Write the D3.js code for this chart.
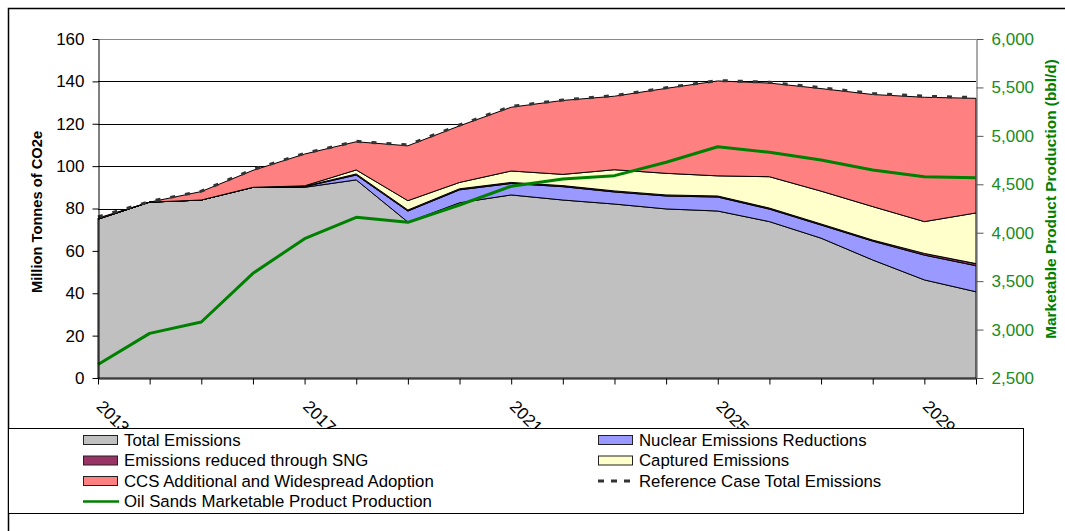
<!DOCTYPE html>
<html>
<head>
<meta charset="utf-8">
<style>
    body { margin: 0; background: #fff; }
    text { font-family: "Liberation Sans", Arial, sans-serif; }
</style>
</head>
<body>
<svg width="1065" height="531"></svg>

<script src="https://d3js.org/d3.v7.min.js"></script>

<script>
    // years on the category axis
    var years = [2013, 2014, 2015, 2016, 2017, 2018, 2019, 2020, 2021, 2022,
                 2023, 2024, 2025, 2026, 2027, 2028, 2029, 2030];
    var yearLabels = [2013, 2017, 2021, 2025, 2029];

    // stacked series, Mt CO2e
    var totalEmissions = [75, 83, 84, 90, 90, 93.5, 73.6, 82.7, 86.4, 84,
                          82.1, 79.8, 78.8, 73.8, 66, 55.7, 46.3, 40.7];
    var nuclear = [0, 0, 0, 0, 0.3, 2.3, 5.2, 6.1, 5.4, 6.3,
                   5.7, 6.1, 6.6, 5.9, 6.2, 8.9, 11.7, 12.3];
    var sng = [0, 0, 0, 0, 0.2, 0.5, 0.5, 0.5, 0.5, 0.5,
               0.5, 0.5, 0.5, 0.5, 0.5, 0.5, 0.8, 1];
    var captured = [0, 0, 0, 0, 0.2, 1.9, 4.4, 3, 5.4, 5.3,
                    10, 10.2, 9.5, 14.8, 15.5, 15.8, 15, 23.9];
    var ccs = [0.5, 0, 4, 8, 15, 13.3, 25.9, 26.7, 30.1, 34.9,
               34.7, 40.1, 44.8, 44.2, 48.4, 52.9, 58.7, 54.1];

    var referenceCase = [76, 83.3, 88.2, 98.4, 106, 111.7, 110, 119.4, 128.2, 131.2,
                         133.3, 137, 140.4, 139.6, 137, 134.3, 133, 132.4];

    // oil sands production, bbl/d (right axis)
    var oilSands = [2640, 2961, 3078, 3581, 3938, 4159, 4107, 4286, 4480, 4555,
                    4589, 4727, 4888, 4830, 4751, 4647, 4578, 4568];

    var leftTicks = [0, 20, 40, 60, 80, 100, 120, 140, 160];
    var rightTicks = [2500, 3000, 3500, 4000, 4500, 5000, 5500, 6000];
</script>

<script>
    function makeChart() {

        var svg = d3.select("svg");

        var keys = ["total", "nuclear", "sng", "captured", "ccs"];
        var colors = {
            total: "#C0C0C0",
            nuclear: "#9999FF",
            sng: "#993366",
            captured: "#FFFFCC",
            ccs: "#FF8080"
        };

        var rows = years.map(function(yr, i) {
            return {
                year: yr,
                total: totalEmissions[i],
                nuclear: nuclear[i],
                sng: sng[i],
                captured: captured[i],
                ccs: ccs[i],
                ref: referenceCase[i],
                oil: oilSands[i]
            };
        });

        var x = d3.scalePoint().domain(years).range([98, 976]);
        var y = d3.scaleLinear().domain([0, 160]).range([378, 39]);
        var y2 = d3.scaleLinear().domain([2500, 6000]).range([378, 39]);

        // outer frame
        svg.append("rect")
            .attr("x", 8.5).attr("y", 8.5)
            .attr("width", 1080).attr("height", 560)
            .attr("fill", "#fff")
            .attr("stroke", "#000")
            .attr("stroke-width", 1.5);

        // gridlines
        svg.append("g")
            .selectAll("line")
            .data(leftTicks.slice(1))
            .enter().append("line")
            .attr("x1", 98).attr("x2", 976)
            .attr("y1", function(d) { return Math.round(y(d)) + 0.5; })
            .attr("y2", function(d) { return Math.round(y(d)) + 0.5; })
            .attr("stroke", function(d) { return d == 160 ? "#888" : "#000"; })
            .attr("stroke-width", 1);

        var stack = d3.stack().keys(keys);
        var layers = stack(rows);

        var area = d3.area()
            .x(function(d) { return x(d.data.year); })
            .y0(function(d) { return y(d[0]); })
            .y1(function(d) { return y(d[1]); });

        svg.append("g")
            .selectAll("path")
            .data(layers)
            .enter().append("path")
            .attr("d", area)
            .attr("fill", function(d) { return colors[d.key]; })
            .attr("stroke", "#000")
            .attr("stroke-width", 1)
            .attr("stroke-linejoin", "round");

        // reference case dashed line
        var refLine = d3.line()
            .x(function(d) { return x(d.year); })
            .y(function(d) { return y(d.ref); });

        svg.append("path")
            .datum(rows)
            .attr("d", refLine)
            .attr("fill", "none")
            .attr("stroke", "#333")
            .attr("stroke-width", 3)
            .attr("stroke-dasharray", "5,10");

        // oil sands line
        var oilLine = d3.line()
            .x(function(d) { return x(d.year); })
            .y(function(d) { return y2(d.oil); });

        svg.append("path")
            .datum(rows)
            .attr("d", oilLine)
            .attr("fill", "none")
            .attr("stroke", "#008000")
            .attr("stroke-width", 3)
            .attr("stroke-linejoin", "round");

        // left axis
        var leftAxis = svg.append("g")
            .attr("transform", "translate(98.5,0)")
            .call(d3.axisLeft(y).tickValues(leftTicks).tickSize(6).tickPadding(8).tickSizeOuter(0));
        leftAxis.select(".domain").attr("stroke", "#000");
        leftAxis.selectAll("text")
            .attr("font-size", 17)
            .attr("font-family", "Liberation Sans, Arial, sans-serif")
            .attr("fill", "#000");

        // right axis
        var rightAxis = svg.append("g")
            .attr("transform", "translate(976.5,0)")
            .call(d3.axisRight(y2).tickValues(rightTicks).tickSize(7).tickPadding(8).tickSizeOuter(0)
                .tickFormat(d3.format(",")));
        rightAxis.select(".domain").attr("stroke", "#555");
        rightAxis.selectAll("line").attr("stroke", "#555");
        rightAxis.selectAll("text")
            .attr("font-size", 17)
            .attr("font-family", "Liberation Sans, Arial, sans-serif")
            .attr("fill", "#1a8c1a");

        // bottom axis
        var bottomAxis = svg.append("g")
            .attr("transform", "translate(0,378.5)")
            .call(d3.axisBottom(x).tickSize(6).tickSizeOuter(0).tickFormat(""));
        bottomAxis.select(".domain").attr("stroke", "#000");

        svg.append("g")
            .selectAll("text")
            .data(yearLabels)
            .enter().append("text")
            .attr("transform", function(d) {
                return "translate(" + (x(d) + 6) + ",399) rotate(45)";
            })
            .attr("dy", "0.71em")
            .attr("font-size", 17)
            .attr("fill", "#000")
            .text(function(d) { return d; });

        // axis titles
        svg.append("text")
            .attr("transform", "translate(42,212) rotate(-90)")
            .attr("text-anchor", "middle")
            .attr("font-size", 14.7)
            .attr("font-weight", "bold")
            .attr("fill", "#000")
            .text("Million Tonnes of CO2e");

        svg.append("text")
            .attr("transform", "translate(1056,199) rotate(-90)")
            .attr("text-anchor", "middle")
            .attr("font-size", 15.4)
            .attr("font-weight", "bold")
            .attr("fill", "#008000")
            .text("Marketable Product Production (bbl/d)");

        // legend
        var legend = svg.append("g");
        legend.append("rect")
            .attr("x", 8.5).attr("y", 428.5)
            .attr("width", 1015).attr("height", 85)
            .attr("fill", "#fff")
            .attr("stroke", "#000")
            .attr("stroke-width", 1);

        var legendItems = [
            { label: "Total Emissions", type: "area", color: colors.total, col: 0, row: 0 },
            { label: "Nuclear Emissions Reductions", type: "area", color: colors.nuclear, col: 1, row: 0 },
            { label: "Emissions reduced through SNG", type: "area", color: colors.sng, col: 0, row: 1 },
            { label: "Captured Emissions", type: "area", color: colors.captured, col: 1, row: 1 },
            { label: "CCS Additional and Widespread Adoption", type: "area", color: colors.ccs, col: 0, row: 2 },
            { label: "Reference Case Total Emissions", type: "dash", color: "#333", col: 1, row: 2 },
            { label: "Oil Sands Marketable Product Production", type: "line", color: "#008000", col: 0, row: 3 }
        ];

        var colX = [83, 598];

        var item = legend.selectAll(".item")
            .data(legendItems)
            .enter().append("g")
            .attr("class", "item")
            .attr("transform", function(d) {
                return "translate(" + colX[d.col] + "," + (440 + d.row * 20.5) + ")";
            });

        item.filter(function(d) { return d.type == "area"; })
            .append("rect")
            .attr("x", 0.5).attr("y", -4.5)
            .attr("width", 34).attr("height", 9)
            .attr("fill", function(d) { return d.color; })
            .attr("stroke", "#222");

        item.filter(function(d) { return d.type == "line"; })
            .append("line")
            .attr("x1", 0).attr("x2", 36).attr("y1", 0).attr("y2", 0)
            .attr("stroke", function(d) { return d.color; })
            .attr("stroke-width", 2.5);

        item.filter(function(d) { return d.type == "dash"; })
            .append("line")
            .attr("x1", 0).attr("x2", 38).attr("y1", 0).attr("y2", 0)
            .attr("stroke", function(d) { return d.color; })
            .attr("stroke-width", 3)
            .attr("stroke-dasharray", "6,7");

        item.append("text")
            .attr("x", 41)
            .attr("dy", "0.35em")
            .attr("font-size", 16.8)
            .attr("fill", "#000")
            .text(function(d) { return d.label; });
    }

    makeChart();
</script>
</body>
</html>
